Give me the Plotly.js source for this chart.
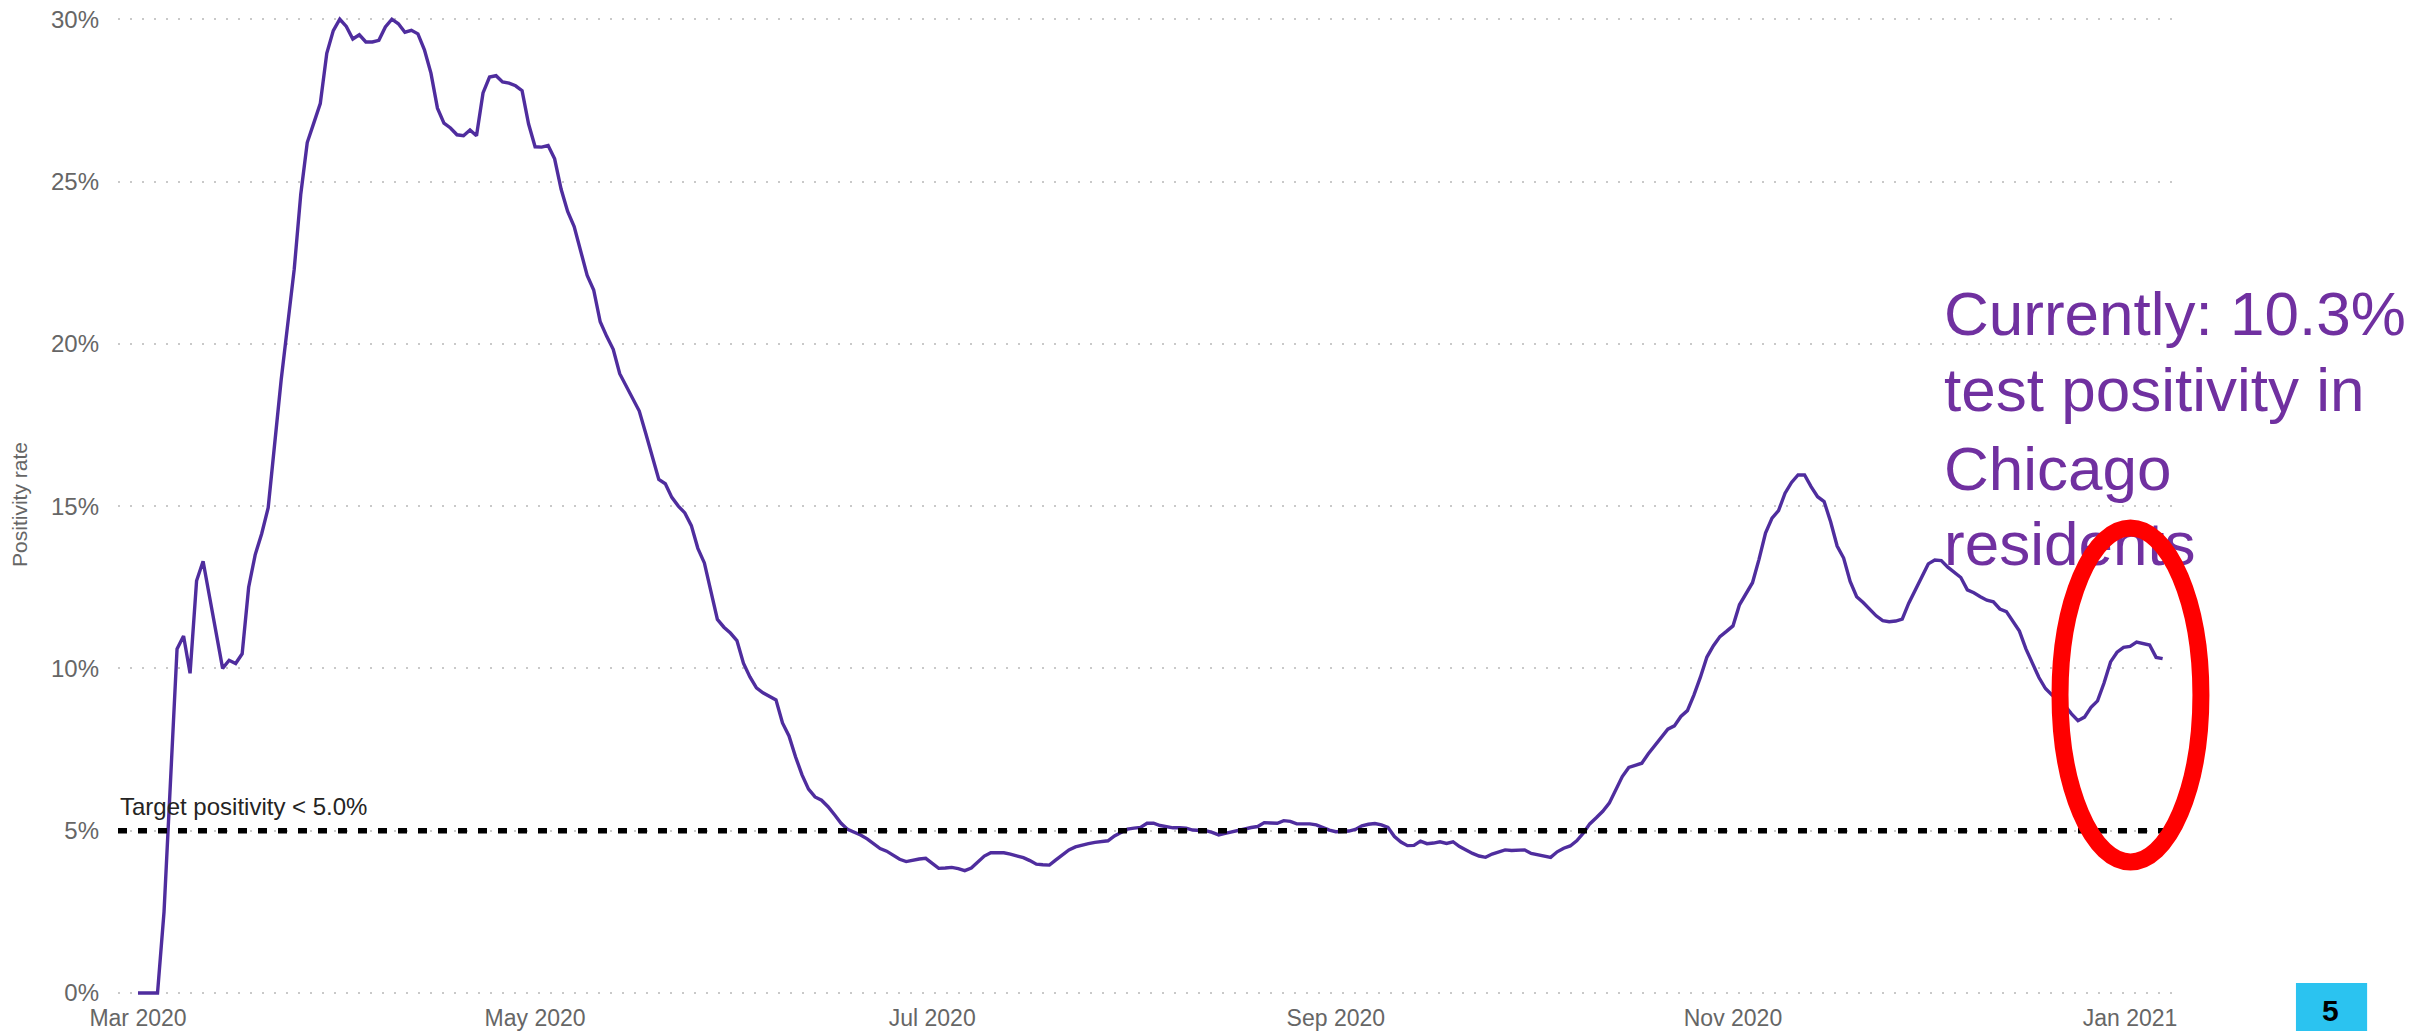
<!DOCTYPE html>
<html>
<head>
<meta charset="utf-8">
<script src="https://cdn.plot.ly/plotly-3.0.1.min.js"></script>
<style>
html,body{margin:0;padding:0;background:#ffffff;}
#chart{width:2432px;height:1031px;}
</style>
</head>
<body>
<div id="chart"></div>
<script>
// Daily test positivity rate (%) for Chicago residents
const mar2020 = [0, 0, 0, 0, 2.5, 6.5, 10.6, 11.0, 9.85, 12.7, 13.3, 12.2, 11.1, 10.0, 10.25, 10.15, 10.45, 12.5, 13.5, 14.15, 14.95, 17.0, 18.9, 20.6, 22.3, 24.6, 26.2, 26.8, 27.4, 28.95, 29.65];
const apr2020 = [30.0, 29.78, 29.39, 29.52, 29.3, 29.3, 29.35, 29.76, 30.0, 29.86, 29.6, 29.66, 29.55, 29.06, 28.34, 27.26, 26.8, 26.65, 26.44, 26.41, 26.59, 26.41, 27.73, 28.22, 28.26, 28.07, 28.03, 27.95, 27.8, 26.77];
const may2020 = [26.07, 26.06, 26.11, 25.7, 24.76, 24.08, 23.61, 22.89, 22.11, 21.66, 20.68, 20.23, 19.83, 19.08, 18.71, 18.29, 17.93, 17.24, 16.5, 15.82, 15.69, 15.27, 15.0, 14.79, 14.4, 13.7, 13.25, 12.4, 11.51, 11.27, 11.09];
const jun2020 = [10.86, 10.16, 9.74, 9.4, 9.25, 9.15, 9.03, 8.32, 7.92, 7.28, 6.72, 6.28, 6.04, 5.94, 5.74, 5.49, 5.23, 5.04, 4.95, 4.87, 4.75, 4.6, 4.45, 4.37, 4.25, 4.12, 4.05, 4.1, 4.13, 4.15];
const jul2020 = [3.98, 3.84, 3.85, 3.87, 3.83, 3.77, 3.85, 4.05, 4.22, 4.32, 4.33, 4.32, 4.28, 4.22, 4.17, 4.08, 3.97, 3.95, 3.94, 4.1, 4.25, 4.41, 4.5, 4.56, 4.6, 4.64, 4.66, 4.69, 4.84, 4.95, 5.05];
const aug2020 = [5.08, 5.1, 5.23, 5.23, 5.16, 5.12, 5.09, 5.09, 5.08, 5.02, 5.0, 5.0, 4.95, 4.87, 4.92, 4.97, 5.02, 5.06, 5.1, 5.13, 5.25, 5.24, 5.23, 5.31, 5.29, 5.21, 5.21, 5.21, 5.18, 5.1, 5.02];
const sep2020 = [4.97, 4.98, 4.99, 5.04, 5.15, 5.2, 5.22, 5.18, 5.1, 4.82, 4.65, 4.54, 4.55, 4.68, 4.6, 4.62, 4.66, 4.61, 4.66, 4.51, 4.4, 4.3, 4.22, 4.18, 4.28, 4.35, 4.41, 4.39, 4.4, 4.41];
const oct2020 = [4.3, 4.26, 4.22, 4.18, 4.35, 4.46, 4.53, 4.69, 4.92, 5.21, 5.4, 5.6, 5.85, 6.26, 6.67, 6.95, 7.02, 7.08, 7.37, 7.61, 7.88, 8.13, 8.23, 8.52, 8.7, 9.18, 9.73, 10.35, 10.7, 10.98, 11.14];
const nov2020 = [11.31, 11.96, 12.3, 12.64, 13.36, 14.17, 14.63, 14.86, 15.4, 15.73, 15.96, 15.96, 15.6, 15.29, 15.14, 14.52, 13.77, 13.4, 12.68, 12.21, 12.03, 11.82, 11.62, 11.47, 11.44, 11.46, 11.52, 12.01, 12.42, 12.83];
const dec2020 = [13.22, 13.34, 13.32, 13.12, 12.95, 12.8, 12.42, 12.33, 12.21, 12.1, 12.05, 11.83, 11.75, 11.45, 11.15, 10.6, 10.15, 9.72, 9.38, 9.18, 9.03, 8.85, 8.6, 8.39, 8.5, 8.8, 9.0, 9.55, 10.2, 10.5, 10.65];
const jan2021 = [10.68, 10.81, 10.77, 10.72, 10.34, 10.3];

const monthKeys = ['2020-03','2020-04','2020-05','2020-06','2020-07','2020-08','2020-09','2020-10','2020-11','2020-12','2021-01'];
const monthVals = [mar2020, apr2020, may2020, jun2020, jul2020, aug2020, sep2020, oct2020, nov2020, dec2020, jan2021];

const yTicks = [0, 5, 10, 15, 20, 25, 30];
const yTickText = yTicks.map(v => v + '%');
const targetRate = 5;
const targetLabel = 'Target positivity < 5.0%';
const calloutLines = ['Currently: 10.3%', 'test positivity in', 'Chicago', 'residents'];
const calloutY = [21.71, 19.37, 16.93, 14.62];
const calloutX = '2020-12-03 10:05';
const pageNumber = '5';

const dates = [], rates = [];
monthKeys.forEach((k, i) => {
  monthVals[i].forEach((v, j) => {
    dates.push(k + '-' + String(j + 1).padStart(2, '0'));
    rates.push(v);
  });
});

const FONT = 'Liberation Sans, Arial, sans-serif';

const traces = [
  {
    x: dates, y: rates, type: 'scatter', mode: 'lines',
    line: {color: '#4F2D9E', width: 3.4},
    hoverinfo: 'skip', showlegend: false
  },
  {
    x: calloutLines.map(() => calloutX), y: calloutY, text: calloutLines,
    type: 'scatter', mode: 'text', textposition: 'bottom right',
    textfont: {family: FONT, size: 62, color: '#7030A0'},
    cliponaxis: false, hoverinfo: 'skip', showlegend: false
  }
];

const layout = {
  width: 2432, height: 1031,
  margin: {l: 118, r: 257, t: 3, b: 25, pad: 0},
  paper_bgcolor: '#ffffff', plot_bgcolor: '#ffffff',
  font: {family: FONT, color: '#666666', size: 24},
  showlegend: false,
  xaxis: {
    type: 'date',
    range: ['2020-02-26 22:19', '2021-01-07 21:36'],
    tick0: '2020-03-01', dtick: 'M2', tickformat: '%b %Y',
    showgrid: false, zeroline: false, showline: false, ticks: '',
    ticklabelstandoff: -4,
    tickfont: {family: FONT, size: 23, color: '#666666'},
    fixedrange: true
  },
  yaxis: {
    range: [-0.4, 30.5],
    tickmode: 'array', tickvals: yTicks, ticktext: yTickText,
    showgrid: true, gridcolor: '#c9c9c9', gridwidth: 2, griddash: '2px,10px',
    zeroline: false, showline: false, ticks: '',
    ticklabelstandoff: 18,
    tickfont: {family: FONT, size: 24, color: '#666666'},
    title: {text: 'Positivity rate', font: {family: FONT, size: 21, color: '#666666'}, standoff: 17},
    fixedrange: true
  },
  shapes: [
    {type: 'line', xref: 'paper', x0: 0, x1: 1, yref: 'y', y0: targetRate, y1: targetRate,
     line: {color: '#000000', width: 5.5, dash: '9px,11px'}, layer: 'above'},
    {type: 'circle', xref: 'paper', yref: 'paper', x0: 0.9441, x1: 1.0126, y0: 0.1436, y1: 0.4766,
     line: {color: '#FF0000', width: 17}, fillcolor: 'rgba(0,0,0,0)', layer: 'above'},
    {type: 'rect', xref: 'paper', yref: 'paper', x0: 1.0588, x1: 1.0934, y0: -0.04, y1: 0.0229,
     line: {width: 0}, fillcolor: '#2BC3F0', layer: 'above'}
  ],
  annotations: [
    {text: targetLabel, xref: 'paper', x: 0, xanchor: 'left', yref: 'y', y: targetRate, yanchor: 'bottom',
     yshift: 9, showarrow: false, font: {family: FONT, size: 24, color: '#252423'}},
    {text: '<b>' + pageNumber + '</b>', xref: 'paper', x: 1.0754, xanchor: 'center', yref: 'paper', y: -0.0232,
     yanchor: 'bottom', showarrow: false, font: {family: FONT, size: 30, color: '#000000'}}
  ]
};

Plotly.newPlot('chart', traces, layout, {staticPlot: true, displayModeBar: false});
</script>
</body>
</html>
